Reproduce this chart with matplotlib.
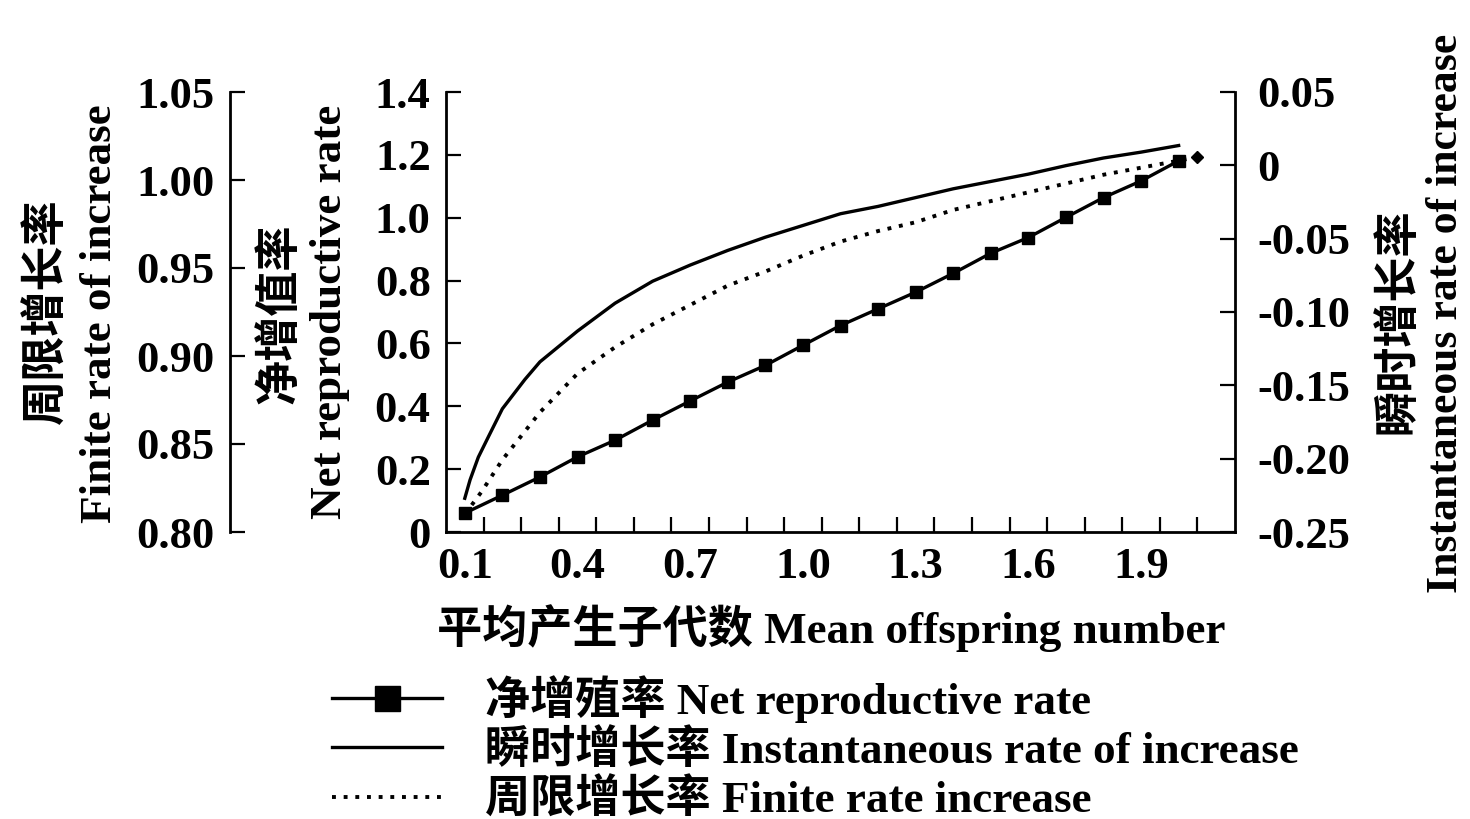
import matplotlib
matplotlib.use("Agg")
import matplotlib.pyplot as plt
from matplotlib.lines import Line2D
import numpy as np

plt.rcParams['font.family'] = ['Liberation Serif', 'Noto Sans CJK SC']
plt.rcParams['font.weight'] = 'bold'

# mean offspring number / net reproductive rate (middle axis)
x_net = [0.1, 0.2, 0.3, 0.4, 0.5, 0.6, 0.7, 0.8, 0.9, 1.0,
         1.1, 1.2, 1.3, 1.4, 1.5, 1.6, 1.7, 1.8, 1.9, 2.0]
net_rate = [0.06, 0.117, 0.175, 0.239, 0.292, 0.356, 0.417, 0.477, 0.530, 0.594,
            0.657, 0.710, 0.763, 0.823, 0.887, 0.937, 1.001, 1.064, 1.117, 1.181]

# instantaneous rate of increase (right axis)
x_inst = [0.1, 0.114, 0.136, 0.163, 0.2, 0.26, 0.3, 0.4, 0.5, 0.6, 0.7, 0.8, 0.9, 1.0,
          1.1, 1.2, 1.3, 1.4, 1.5, 1.6, 1.7, 1.8, 1.9, 2.0]
inst_rate = [-0.227, -0.2145, -0.199, -0.185, -0.166, -0.146, -0.134, -0.113, -0.094,
             -0.079, -0.068, -0.058, -0.049, -0.041, -0.033, -0.028, -0.022, -0.016,
             -0.011, -0.006, -0.0002, 0.005, 0.009, 0.0135]

# finite rate of increase (left axis)
x_fin = [0.1, 0.145, 0.2, 0.3, 0.4, 0.5, 0.6, 0.7, 0.8, 0.9, 1.0,
         1.1, 1.2, 1.3, 1.4, 1.5, 1.6, 1.7, 1.8, 1.9, 2.0, 2.05]
finite_rate = [0.81, 0.823, 0.841, 0.868, 0.890, 0.905, 0.918, 0.929, 0.940, 0.948, 0.957,
               0.965, 0.971, 0.976, 0.983, 0.988, 0.993, 0.998, 1.003, 1.007, 1.011, 1.013]

x_labels = ['0.1', '0.4', '0.7', '1.0', '1.3', '1.6', '1.9']
net_ticks = ['0', '0.2', '0.4', '0.6', '0.8', '1.0', '1.2', '1.4']
fin_ticks = ['0.80', '0.85', '0.90', '0.95', '1.00', '1.05']
inst_ticks = ['-0.25', '-0.20', '-0.15', '-0.10', '-0.05', '0', '0.05']

FS = 32.5
TFS = 32
fig = plt.figure(figsize=(14.7, 8.19), dpi=100)
ax = fig.add_axes([446/1470, 1-532/819, 789/1470, 440/819])
ax_r = ax.twinx()
ax_l = ax.twinx()

lw_sp = 2.0
tick_kw = dict(direction='in', length=11, width=1.6, labelsize=TFS)

# main (net reproductive rate)
ax.plot(x_net, net_rate, color='black', lw=2.4, marker='s', ms=9, zorder=3)
ax.set_xlim(0.05, 2.15)
ax.set_ylim(0, 1.4)
ax.set_yticks(np.linspace(0, 1.4, 8))
ax.set_yticklabels(net_ticks)
ax.set_xticks([float(s) for s in x_labels])
ax.set_xticklabels(x_labels)
ax.set_xticks(np.arange(0.15, 2.1, 0.1), minor=True)
ax.tick_params(axis='y', pad=11, **tick_kw)
ax.tick_params(axis='x', which='major', length=0, labelsize=TFS, pad=11)
ax.tick_params(axis='x', which='minor', direction='in', length=11, width=1.6)
for s in ['top', 'right']:
    ax.spines[s].set_visible(False)
for s in ['left', 'bottom']:
    ax.spines[s].set_linewidth(lw_sp)

# right (instantaneous rate)
ax_r.plot(x_inst, inst_rate, color='black', lw=2.4)
ax_r.set_ylim(-0.25, 0.05)
ax_r.set_yticks(np.linspace(-0.25, 0.05, 7))
ax_r.set_yticklabels(inst_ticks)
ax_r.tick_params(axis='y', pad=16, **tick_kw)
for s in ['top', 'left', 'bottom']:
    ax_r.spines[s].set_visible(False)
ax_r.spines['right'].set_linewidth(lw_sp)

# left (finite rate)
ax_l.plot(x_fin, finite_rate, color='black', lw=2.8, ls=(0, (1, 2.0)))
ax_l.plot(x_fin[-1:], finite_rate[-1:], color='black', marker='D', ms=6, ls='none')
ax_l.set_ylim(0.80, 1.05)
ax_l.set_yticks(np.linspace(0.80, 1.05, 6))
ax_l.set_yticklabels(fin_ticks)
ax_l.yaxis.set_ticks_position('left')
ax_l.spines['left'].set_position(('axes', (230-446)/789))
ax_l.spines['left'].set_visible(True)
ax_l.spines['left'].set_linewidth(lw_sp)
for s in ['top', 'right', 'bottom']:
    ax_l.spines[s].set_visible(False)
ax_l.tick_params(axis='y', pad=11, **tick_kw)

# axis titles
def ytitle(xp, yp, s, fs=FS):
    fig.text(xp/1470, 1-yp/819, s, rotation=90, ha='center', va='center', fontsize=fs)

ytitle(47, 311, '周限增长率')
ytitle(100, 314, 'Finite rate of increase')
ytitle(280, 314, '净增值率')
ytitle(330, 312, 'Net reproductive rate')
ytitle(1398, 321, '瞬时增长率')
ytitle(1446, 313, 'Instantaneous rate of increase', fs=31.5)
fig.text(831/1470, 1-628/819, '平均产生子代数 Mean offspring number',
         ha='center', va='center', fontsize=FS)

handles = [
    Line2D([], [], color='black', lw=2.4, marker='s', ms=18),
    Line2D([], [], color='black', lw=2.4),
    Line2D([], [], color='black', lw=2.8, ls=(0, (1, 2.0))),
]
labels = ['净增殖率 Net reproductive rate',
          '瞬时增长率 Instantaneous rate of increase',
          '周限增长率 Finite rate increase']
fig.legend(handles, labels, loc='upper left', bbox_to_anchor=(332/1470, 1-675/819),
           frameon=False, fontsize=FS, handlelength=2.43, handletextpad=0.95,
           labelspacing=0.14, borderaxespad=0, borderpad=0)

fig.savefig('out.png', dpi=100)
